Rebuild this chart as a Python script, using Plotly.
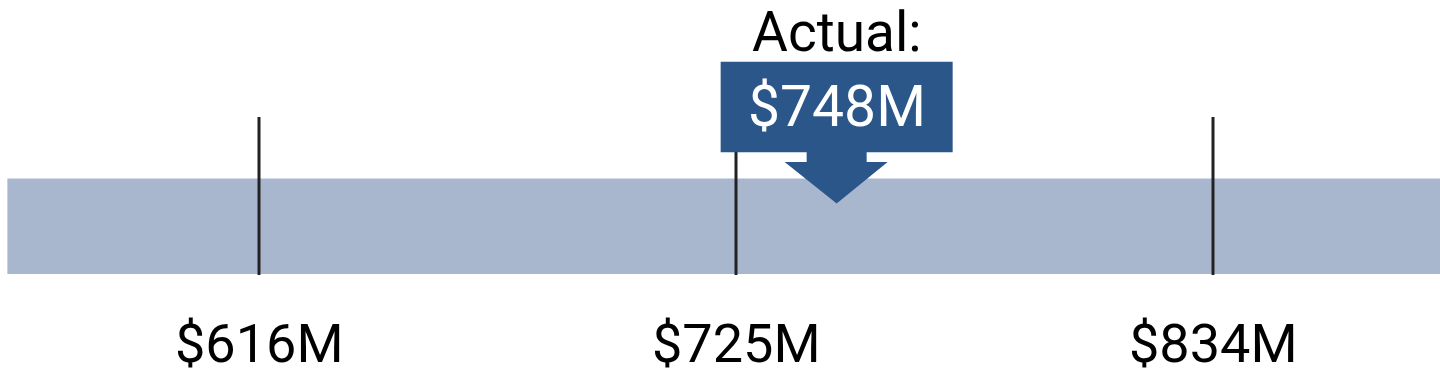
import plotly.graph_objects as go

# Data
tick_values = [616, 725, 834]
tick_labels = ["$616M", "$725M", "$834M"]
band_low = 558.5
band_high = 891.5
actual_value = 748
actual_label = "$748M"
actual_title = "Actual:"

W, H = 1440, 378
FONT = "Roboto"
BOX = "#2b5689"
BAND = "#a9b7ce"

fig = go.Figure()

# range band
fig.add_shape(type="rect", xref="x", yref="y", x0=band_low, x1=band_high,
              y0=178.5, y1=274, fillcolor=BAND, line=dict(width=0), layer="below")

# tick lines
for v in tick_values:
    fig.add_trace(go.Scatter(x=[v, v], y=[117, 275], mode="lines",
                             line=dict(color="#222222", width=3),
                             hoverinfo="skip", showlegend=False))

# tick labels
for v, t in zip(tick_values, tick_labels):
    fig.add_annotation(x=v, y=377, xref="x", yref="y", text=t, showarrow=False,
                       font=dict(family=FONT, size=54, color="#000000"),
                       xanchor="center", yanchor="bottom")

# actual marker: box + arrow as a pixel-sized path anchored at the value
path = ("M -116 61.7 L 116 61.7 L 116 152.3 L 30 152.3 L 30 162 L 51 162 "
        "L 0 203.5 L -52 162 L -30 162 L -30 152.3 L -116 152.3 Z")
fig.add_shape(type="path", xref="x", yref="y", xsizemode="pixel",
              xanchor=actual_value, path=path, fillcolor=BOX,
              line=dict(width=0), layer="above")
fig.add_annotation(x=actual_value, y=106, xref="x", yref="y", text=actual_label,
                   showarrow=False, font=dict(family=FONT, size=57, color="#ffffff"),
                   xanchor="center", yanchor="middle")
fig.add_annotation(x=actual_value, y=0, xref="x", yref="y", text=actual_title,
                   showarrow=False, font=dict(family=FONT, size=55, color="#000000"),
                   xanchor="center", yanchor="top", yshift=2)

px_per = (1213 - 259) / (tick_values[2] - tick_values[0])
x0 = tick_values[0] - 259 / px_per
x1 = x0 + W / px_per

fig.update_layout(
    width=W, height=H, margin=dict(l=0, r=0, t=0, b=0),
    paper_bgcolor="white", plot_bgcolor="white",
    xaxis=dict(range=[x0, x1], visible=False, fixedrange=True),
    yaxis=dict(range=[H, 0], visible=False, fixedrange=True),
    showlegend=False,
)

fig.write_html("out.html", config={"displayModeBar": False})
